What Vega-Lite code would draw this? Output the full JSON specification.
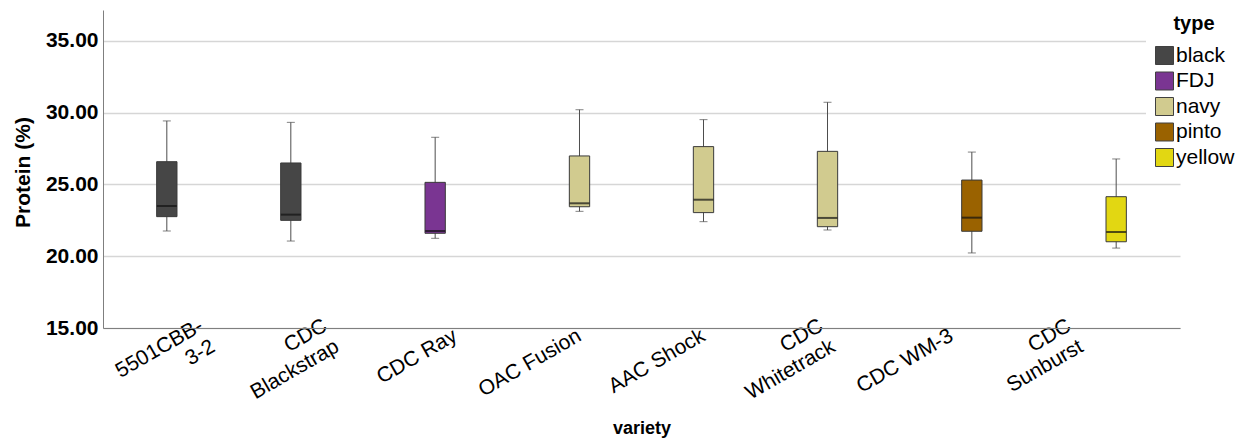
{
  "$schema": "https://vega.github.io/schema/vega-lite/v6.json",
  "width": 1077,
  "height": 318,
  "autosize": {"type": "none"},
  "padding": {"left": 103, "top": 10, "right": 62, "bottom": 110},
  "background": "white",
  "config": {"view": {"stroke": null}, "font": "Liberation Sans"},
  "data": {
    "values": [
      {"variety": "5501CBB-3-2", "type": "black", "lower": 21.76, "q1": 22.76, "median": 23.50, "q3": 26.59, "upper": 29.43},
      {"variety": "CDC Blackstrap", "type": "black", "lower": 21.06, "q1": 22.50, "median": 22.90, "q3": 26.50, "upper": 29.33},
      {"variety": "CDC Ray", "type": "FDJ", "lower": 21.25, "q1": 21.60, "median": 21.76, "q3": 25.15, "upper": 28.29},
      {"variety": "OAC Fusion", "type": "navy", "lower": 23.13, "q1": 23.45, "median": 23.69, "q3": 26.99, "upper": 30.21},
      {"variety": "AAC Shock", "type": "navy", "lower": 22.41, "q1": 23.04, "median": 23.94, "q3": 27.64, "upper": 29.52},
      {"variety": "CDC Whitetrack", "type": "navy", "lower": 21.83, "q1": 22.06, "median": 22.67, "q3": 27.31, "upper": 30.73},
      {"variety": "CDC WM-3", "type": "pinto", "lower": 20.23, "q1": 21.74, "median": 22.69, "q3": 25.31, "upper": 27.26},
      {"variety": "CDC Sunburst", "type": "yellow", "lower": 20.57, "q1": 21.01, "median": 21.69, "q3": 24.15, "upper": 26.78}
    ]
  },
  "encoding": {
    "x": {
      "field": "variety",
      "type": "nominal",
      "sort": ["5501CBB-3-2", "CDC Blackstrap", "CDC Ray", "OAC Fusion", "AAC Shock", "CDC Whitetrack", "CDC WM-3", "CDC Sunburst"],
      "scale": {"paddingInner": 0.18, "paddingOuter": 0.4327},
      "axis": {
        "title": "variety",
        "titleFontSize": 18,
        "titleFontWeight": "bold",
        "titleColor": "black",
        "titleY": 105,
        "titleBaseline": "alphabetic",
        "labelExpr": "datum.value == '5501CBB-3-2' ? ['5501CBB-', '3-2'] : datum.value == 'CDC Blackstrap' ? ['CDC', 'Blackstrap'] : datum.value == 'CDC Whitetrack' ? ['CDC', 'Whitetrack'] : datum.value == 'CDC Sunburst' ? ['CDC', 'Sunburst'] : datum.value",
        "labelAngle": -30,
        "labelAlign": "right",
        "labelBaseline": "middle",
        "labelPadding": {"condition": {"test": "indexof(['5501CBB-3-2','CDC Blackstrap','CDC Whitetrack','CDC Sunburst'], datum.value) >= 0", "value": -4}, "value": 6},
        "labelOffset": {"condition": {"test": "indexof(['5501CBB-3-2','CDC Blackstrap','CDC Whitetrack','CDC Sunburst'], datum.value) >= 0", "value": -6}, "value": 0},
        "labelFontSize": 21,
        "labelColor": "black",
        "labelLineHeight": 24,
        "labelOverlap": false,
        "labelBound": false,
        "ticks": false,
        "grid": false,
        "domainColor": "#7f7f7f",
        "domainWidth": 1
      }
    },
    "xOffset": {
      "field": "type",
      "type": "nominal",
      "scale": {"domain": ["black", "FDJ", "navy", "pinto", "yellow"], "paddingInner": 0, "paddingOuter": 0}
    }
  },
  "layer": [
    {
      "mark": {"type": "rule", "color": "#4d4d4d", "strokeWidth": 1},
      "encoding": {
        "y": {
          "field": "lower",
          "type": "quantitative",
          "title": "Protein (%)",
          "scale": {"domain": [15, 37.16], "nice": false, "zero": false},
          "axis": {
            "values": [15, 20, 25, 30, 35],
            "format": ".2f",
            "labelFontSize": 21,
            "labelFontWeight": "bold",
            "labelColor": "black",
            "labelPadding": 5,
            "ticks": false,
            "domainColor": "#7f7f7f",
            "domainWidth": 1,
            "gridColor": "#d6d6d6",
            "gridWidth": 1.5,
            "titleFontSize": 21,
            "titleFontWeight": "bold",
            "titleColor": "black",
            "titleX": -80,
            "titleY": 162,
            "titleBaseline": "middle",
            "titleAlign": "center",
            "titleAngle": -90
          }
        },
        "y2": {"field": "upper"}
      }
    },
    {
      "mark": {"type": "tick", "color": "#4d4d4d", "size": 8, "thickness": 1, "orient": "horizontal"},
      "encoding": {"y": {"field": "lower", "type": "quantitative", "title": "Protein (%)"}}
    },
    {
      "mark": {"type": "tick", "color": "#4d4d4d", "size": 8, "thickness": 1, "orient": "horizontal"},
      "encoding": {"y": {"field": "upper", "type": "quantitative", "title": "Protein (%)"}}
    },
    {
      "mark": {"type": "bar", "stroke": "#3a3a3a", "strokeWidth": 1},
      "encoding": {
        "y": {"field": "q1", "type": "quantitative", "title": "Protein (%)"},
        "y2": {"field": "q3"},
        "color": {
          "field": "type",
          "type": "nominal",
          "scale": {"domain": ["black", "FDJ", "navy", "pinto", "yellow"], "range": ["#464646", "#7a3592", "#d1cb8f", "#9a6200", "#e2d712"]},
          "legend": {
            "orient": "none",
            "legendX": 1043,
            "legendY": -4,
            "padding": 8,
            "fillColor": "white",
            "title": "type",
            "titleFontSize": 20,
            "titleFontWeight": "bold",
            "titleColor": "black",
            "titleAnchor": "middle",
            "titlePadding": 11,
            "labelFontSize": 21,
            "labelColor": "black",
            "labelOffset": 1,
            "symbolType": "square",
            "symbolSize": 324,
            "symbolStrokeColor": "#404040",
            "symbolStrokeWidth": 1,
            "symbolFillOpacity": 1,
            "rowPadding": 2.5
          }
        }
      }
    },
    {
      "mark": {"type": "tick", "color": "#111111", "size": 20, "thickness": 2, "orient": "horizontal"},
      "encoding": {"y": {"field": "median", "type": "quantitative", "title": "Protein (%)"}}
    }
  ]
}
